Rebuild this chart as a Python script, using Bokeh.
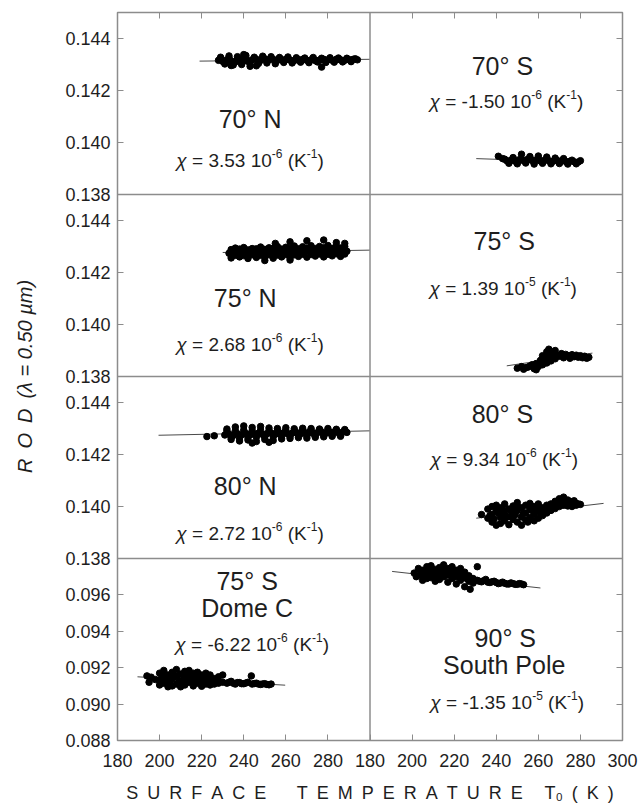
from bokeh.plotting import figure
from bokeh.models import (Range1d, LinearAxis, FixedTicker, Span, Grid)
from bokeh.embed import file_html
from bokeh.resources import INLINE
from bokeh.core.properties import value

# ---------------- DATA ----------------
X_TICKS = [180, 200, 220, 240, 260, 280, 300]
Y_TICKS_TOP = [0.138, 0.140, 0.142, 0.144]
Y_TICKS_BOT = [0.088, 0.090, 0.092, 0.094, 0.096]

# 70 N
T_70N = [228, 230, 232, 234, 236, 238, 240, 242, 244, 246,
         248, 250, 252, 254, 256, 258, 260, 262, 264, 266,
         268, 270, 272, 274, 276, 278, 280, 282, 284, 286,
         288, 290, 292, 294, 229, 233, 237, 241, 245, 249,
         253, 257, 261, 265, 269, 273, 277, 281, 285, 289,
         231, 235, 239, 243, 247, 251, 255, 259, 263, 267,
         271, 275, 279, 283, 287, 291, 277, 234, 240, 246,
         229, 231, 233, 235, 237, 239, 241, 243, 245, 247, 249,
         251, 253, 255, 257, 259, 261, 263, 265, 267, 269, 271,
         273, 275, 277, 279, 281, 283, 285, 287, 289, 291, 293]
R_70N = [0.14316, 0.14312, 0.14318, 0.14314, 0.14310, 0.14320, 0.14315, 0.14312, 0.14318, 0.14320,
         0.14316, 0.14322, 0.14318, 0.14320, 0.14316, 0.14318, 0.14320, 0.14317, 0.14315, 0.14318,
         0.14320, 0.14316, 0.14318, 0.14315, 0.14317, 0.14320, 0.14318, 0.14316, 0.14320, 0.14318,
         0.14316, 0.14319, 0.14320, 0.14318, 0.14328, 0.14333, 0.14330, 0.14335, 0.14328, 0.14332,
         0.14330, 0.14327, 0.14329, 0.14326, 0.14325, 0.14327, 0.14324, 0.14326, 0.14325, 0.14324,
         0.14302, 0.14298, 0.14300, 0.14293, 0.14304, 0.14306, 0.14303, 0.14308, 0.14306, 0.14309,
         0.14307, 0.14310, 0.14308, 0.14309, 0.14310, 0.14311, 0.14290, 0.14296, 0.14338, 0.14295,
         0.14322, 0.14308, 0.14324, 0.14306, 0.14322, 0.14305, 0.14326, 0.14308, 0.14322, 0.14310, 0.14324,
         0.14312, 0.14322, 0.14310, 0.14324, 0.14312, 0.14320, 0.14312, 0.14322, 0.14312, 0.14320, 0.14313,
         0.14322, 0.14312, 0.14320, 0.14314, 0.14322, 0.14313, 0.14320, 0.14314, 0.14321, 0.14313, 0.14322]
LT_70N = [219, 300]
LR_70N = [0.14313, 0.14320]

# 75 N
T_75N = [233, 235, 237, 239, 241, 243, 245, 247, 249, 251,
         253, 255, 257, 259, 261, 263, 265, 267, 269, 271,
         273, 275, 277, 279, 281, 283, 285, 287, 289,
         236, 240, 244, 248, 252, 256, 260, 264, 268, 272, 276, 280, 284, 288,
         255, 262, 270, 278, 284, 288,
         234, 238, 242, 246, 250, 254, 258, 262, 266, 270, 274, 278, 282, 286,
         250, 262,
         234, 236, 238, 240, 242, 244, 246, 248, 250, 252, 254, 256, 258, 260,
         262, 264, 266, 268, 270, 272, 274, 276, 278, 280, 282, 284, 286, 288]
R_75N = [0.14274, 0.14278, 0.14272, 0.14280, 0.14276, 0.14274, 0.14279, 0.14276, 0.14281, 0.14277,
         0.14275, 0.14280, 0.14278, 0.14282, 0.14276, 0.14279, 0.14283, 0.14278, 0.14280, 0.14284,
         0.14279, 0.14281, 0.14285, 0.14280, 0.14283, 0.14286, 0.14281, 0.14284, 0.14282,
         0.14294, 0.14296, 0.14292, 0.14298, 0.14295, 0.14300, 0.14297, 0.14302, 0.14299, 0.14303,
         0.14300, 0.14304, 0.14301, 0.14300,
         0.14312, 0.14318, 0.14322, 0.14325, 0.14315, 0.14312,
         0.14256, 0.14260, 0.14254, 0.14258, 0.14262, 0.14255, 0.14260, 0.14257, 0.14262, 0.14259,
         0.14263, 0.14260, 0.14264, 0.14262,
         0.14246, 0.14248,
         0.14288, 0.14266, 0.14290, 0.14265, 0.14287, 0.14268, 0.14291, 0.14266, 0.14289, 0.14268,
         0.14292, 0.14267, 0.14290, 0.14269, 0.14293, 0.14268, 0.14291, 0.14270, 0.14294, 0.14269,
         0.14292, 0.14271, 0.14295, 0.14270, 0.14293, 0.14272, 0.14294, 0.14271]
LT_75N = [230, 300]
LR_75N = [0.14277, 0.14286]

# 80 N
T_80N = [222.5, 226,
         231, 233, 235, 237, 239, 241, 243, 245, 247, 249,
         251, 253, 255, 257, 259, 261, 263, 265, 267, 269,
         271, 273, 275, 277, 279, 281, 283, 285, 287, 289,
         232, 236, 240, 244, 248, 252, 256, 260, 264, 268, 272, 276, 280, 284, 288,
         234, 238, 242, 246, 250, 254, 258, 262, 266, 270, 274, 278, 282, 286,
         244, 252,
         232, 234, 236, 238, 240, 242, 244, 246, 248, 250, 252, 254, 256, 258, 260,
         262, 264, 266, 268, 270, 272, 274, 276, 278, 280, 282, 284, 286, 288]
R_80N = [0.14269, 0.14272,
         0.14275, 0.14279, 0.14273, 0.14280, 0.14276, 0.14281, 0.14275, 0.14279, 0.14282, 0.14277,
         0.14280, 0.14283, 0.14278, 0.14281, 0.14284, 0.14279, 0.14282, 0.14285, 0.14280, 0.14283,
         0.14286, 0.14281, 0.14284, 0.14287, 0.14282, 0.14285, 0.14287, 0.14284, 0.14286, 0.14285,
         0.14298, 0.14306, 0.14310, 0.14304, 0.14308, 0.14302, 0.14300, 0.14303, 0.14299, 0.14301,
         0.14300, 0.14298, 0.14300, 0.14297, 0.14296,
         0.14258, 0.14252, 0.14256, 0.14250, 0.14258, 0.14254, 0.14260, 0.14262, 0.14265, 0.14263,
         0.14266, 0.14268, 0.14270, 0.14270,
         0.14244, 0.14247,
         0.14290, 0.14266, 0.14292, 0.14264, 0.14294, 0.14266, 0.14292, 0.14267, 0.14293, 0.14268,
         0.14291, 0.14269, 0.14292, 0.14270, 0.14293, 0.14271, 0.14292, 0.14272, 0.14294, 0.14272,
         0.14293, 0.14273, 0.14294, 0.14274, 0.14293, 0.14274, 0.14294, 0.14275, 0.14292]
LT_80N = [199.5, 300]
LR_80N = [0.14274, 0.14291]

# 70 S
T_70S = [241, 243,
         245, 247, 249, 251, 253, 255, 257, 259, 261, 263, 265, 267, 269, 271, 273, 275, 277, 279,
         248, 252, 256, 260, 264, 268, 272,
         246, 250, 254, 258, 262, 266, 270, 274, 278,
         244, 246, 248, 250, 252, 254, 256, 258, 260, 262, 264, 266, 268, 270, 272, 274, 276, 278, 280]
R_70S = [0.13947, 0.13938,
         0.13930, 0.13932, 0.13928, 0.13934, 0.13930, 0.13936, 0.13931, 0.13933, 0.13929, 0.13932,
         0.13930, 0.13928, 0.13931, 0.13929, 0.13927, 0.13928, 0.13926, 0.13925,
         0.13942, 0.13955, 0.13946, 0.13948, 0.13944, 0.13940, 0.13938,
         0.13920, 0.13918, 0.13921, 0.13917, 0.13920, 0.13918, 0.13919, 0.13917, 0.13918,
         0.13936, 0.13925, 0.13938, 0.13924, 0.13937, 0.13926, 0.13939, 0.13924, 0.13936, 0.13925,
         0.13935, 0.13923, 0.13934, 0.13924, 0.13933, 0.13922, 0.13932, 0.13922, 0.13930]
LT_70S = [230.5, 281]
LR_70S = [0.13938, 0.13924]

# 75 S
T_75S = [250, 252, 254, 256, 258, 253, 257,
         259, 260, 261, 262, 262, 263, 264, 264, 265, 265, 266, 266, 267, 268, 268,
         270, 271, 272, 273, 274, 275, 276, 277, 278, 279, 280, 281, 282, 283, 284,
         255, 259, 263, 266, 269, 272, 275, 278]
R_75S = [0.13832, 0.13838, 0.13834, 0.13840, 0.13830, 0.13828, 0.13845,
         0.13850, 0.13838, 0.13862, 0.13845, 0.13880, 0.13870, 0.13895, 0.13852, 0.13905, 0.13875,
         0.13860, 0.13890, 0.13882, 0.13900, 0.13868,
         0.13878, 0.13888, 0.13872, 0.13885, 0.13880, 0.13870, 0.13884, 0.13876, 0.13882, 0.13874,
         0.13880, 0.13872, 0.13878, 0.13870, 0.13874,
         0.13836, 0.13826, 0.13858, 0.13875, 0.13880, 0.13880, 0.13878, 0.13878]
LT_75S = [245, 285.7]
LR_75S = [0.13841, 0.13890]

# 80 S
T_80S = [233, 236, 236,
         238, 238, 238, 240, 240, 240, 242, 242, 242, 244, 244, 244,
         246, 246, 246, 248, 248, 248, 250, 250, 250, 252, 252, 252,
         254, 254, 254, 256, 256, 256, 258, 258, 258, 260, 260, 260,
         262, 262, 264, 264, 266, 266, 268, 268, 270, 270, 272, 272,
         274, 274, 276, 276, 278, 278, 280,
         237, 239, 241, 243, 245, 247, 249, 251, 253, 255, 257,
         259, 261, 263, 265, 267, 269, 271, 273, 275, 277, 279]
R_80S = [0.13969, 0.13990, 0.13955,
         0.14000, 0.13940, 0.13970, 0.13985, 0.13928, 0.14005, 0.13960, 0.13995, 0.13935,
         0.13975, 0.14010, 0.13945,
         0.13990, 0.13930, 0.13962, 0.14002, 0.13950, 0.13978, 0.13940, 0.13985, 0.14015,
         0.13960, 0.13995, 0.13928,
         0.13975, 0.14005, 0.13948, 0.13990, 0.13958, 0.14012, 0.13970, 0.14000, 0.13945,
         0.13985, 0.13955, 0.14010,
         0.13995, 0.13965, 0.14005, 0.13975, 0.14010, 0.13985, 0.14020, 0.13992, 0.14030, 0.14000,
         0.14036, 0.14005,
         0.14025, 0.14002, 0.14018, 0.14000, 0.14012, 0.14005, 0.14008,
         0.13965, 0.13952, 0.13975, 0.13990, 0.13960, 0.13985, 0.13968, 0.13995, 0.13975, 0.13940,
         0.13985, 0.13995, 0.13975, 0.13990, 0.13995, 0.14000, 0.14012, 0.14018, 0.14015, 0.14010,
         0.14022, 0.14010]
LT_80S = [230.5, 291]
LR_80S = [0.13955, 0.14012]

# 75 S Dome C
T_DC = [194, 195, 196, 198,
        200, 200, 200, 202, 202, 202, 204, 204, 204, 206, 206, 206,
        208, 208, 208, 210, 210, 210, 212, 212, 212, 214, 214, 214,
        216, 216, 216, 218, 218, 218, 220, 220, 220, 222, 222, 222,
        224, 224, 224, 226, 226, 228, 228, 230, 230,
        232, 234, 236, 238, 240, 242, 243.6, 244, 246, 248, 250, 252, 253,
        201, 203, 205, 207, 209, 211, 213, 215, 217, 219, 221, 223, 225, 227,
        233, 235, 237, 239, 241, 245, 247, 249, 251]
R_DC = [0.09155, 0.09120, 0.09148, 0.09135,
        0.09170, 0.09130, 0.09105, 0.09150, 0.09185, 0.09115, 0.09160, 0.09125, 0.09095,
        0.09175, 0.09140, 0.09100,
        0.09155, 0.09190, 0.09110, 0.09165, 0.09130, 0.09095, 0.09180, 0.09145, 0.09105,
        0.09160, 0.09120, 0.09185,
        0.09170, 0.09135, 0.09100, 0.09150, 0.09115, 0.09175, 0.09160, 0.09125, 0.09098,
        0.09145, 0.09110, 0.09170,
        0.09135, 0.09105, 0.09160, 0.09140, 0.09110, 0.09150, 0.09115, 0.09120, 0.09160,
        0.09115, 0.09125, 0.09110, 0.09118, 0.09112, 0.09120, 0.09155, 0.09110, 0.09115,
        0.09108, 0.09112, 0.09106, 0.09110,
        0.09145, 0.09160, 0.09130, 0.09150, 0.09120, 0.09165, 0.09135, 0.09150, 0.09128, 0.09155,
        0.09120, 0.09140, 0.09125, 0.09130,
        0.09120, 0.09115, 0.09118, 0.09112, 0.09116, 0.09113, 0.09110, 0.09111, 0.09108]
LT_DC = [189.5, 259.7]
LR_DC = [0.09150, 0.09104]

# 90 S South Pole
T_SP = [201, 202, 203,
        205, 205, 205, 207, 207, 207, 209, 209, 209, 211, 211, 211,
        213, 213, 213, 215, 215, 215, 217, 217, 217, 219, 219, 219,
        221, 221, 221, 223, 223, 223, 225, 225, 225,
        227, 227, 229, 229,
        231, 233, 235, 237, 239, 241, 243, 245, 247, 249, 251, 253,
        231, 227.6,
        204, 206, 208, 210, 212, 214, 216, 218, 220, 222, 224, 226, 228,
        232, 234, 236, 238, 240, 242, 244, 246, 248, 250, 252]
R_SP = [0.09720, 0.09700, 0.09745,
        0.09735, 0.09700, 0.09680, 0.09755, 0.09715, 0.09690, 0.09725, 0.09760, 0.09695,
        0.09740, 0.09705, 0.09675,
        0.09720, 0.09750, 0.09685, 0.09735, 0.09700, 0.09765, 0.09710, 0.09745, 0.09670,
        0.09725, 0.09690, 0.09755,
        0.09700, 0.09735, 0.09660, 0.09715, 0.09680, 0.09745, 0.09695, 0.09725, 0.09645,
        0.09705, 0.09675, 0.09690, 0.09665,
        0.09680, 0.09672, 0.09685, 0.09668, 0.09675, 0.09662, 0.09670, 0.09660, 0.09666,
        0.09658, 0.09662, 0.09656,
        0.09755, 0.09631,
        0.09715, 0.09725, 0.09730, 0.09720, 0.09712, 0.09735, 0.09710, 0.09722, 0.09705, 0.09712,
        0.09700, 0.09690, 0.09685,
        0.09675, 0.09678, 0.09670, 0.09672, 0.09668, 0.09665, 0.09664, 0.09660, 0.09662, 0.09658,
        0.09660]
LT_SP = [190.5, 261]
LR_SP = [0.09729, 0.09638]

CHI_MANT = ["3.53", "-1.50", "2.68", "1.39", "2.72", "9.34", "-6.22", "-1.35"]
CHI_EXP = ["6", "6", "6", "5", "6", "6", "6", "5"]

Y_TITLE = "R\u2002O\u2002D\u2002(λ\u00a0=\u00a00.50\u00a0µm)"
X_TITLE = ("\u2002".join("SURFACE") + "\u2003\u2002\u2009" + "\u2002".join("TEMPERATURE")
           + "\u2003\u2009T\u2080\u2002(\u2002K\u2002)")

# ---------------- STYLE / LAYOUT ----------------
FONT = "Liberation Sans"
TXT = "#1e1e1e"
FRAME = "#8c8c8c"
LINE = "#4a4a4a"
FW, FH = 505, 728
BL, BR, BT, BB = 117, 16, 12, 66

W = {'.': 0.278, ' ': 0.278, '\u00a0': 0.278, '=': 0.584, '-': 0.333, '(': 0.333,
     ')': 0.333, 'K': 0.667, 'χ': 0.55}


def tw(s, size):
    return sum(W.get(c, 0.556) for c in s) * size


# main ranges = left column / top row; extra ranges place the other panels
XR = Range1d(180, 420)
XR_RIGHT = Range1d(60, 300)
YR = Range1d(0.117, 0.145)
YR_EXTRA = {"r2": Range1d(0.124, 0.152), "r3": Range1d(0.131, 0.159), "r4": Range1d(0.088, 0.128)}

p = figure(frame_width=FW, frame_height=FH, x_range=XR, y_range=YR,
           x_axis_location=None, y_axis_location=None,
           output_backend="svg", toolbar_location=None,
           min_border_left=BL, min_border_right=BR, min_border_top=BT, min_border_bottom=BB)
p.extra_x_ranges = {"right": XR_RIGHT}
p.extra_y_ranges = YR_EXTRA
for r in p.center:
    if isinstance(r, Grid):
        r.visible = False
p.outline_line_color = FRAME
p.outline_line_width = 1.5
p.background_fill_color = "white"
p.border_fill_color = "white"


def to_main(v, rng, main):
    return round(main.start + (v - rng.start) / (rng.end - rng.start) * (main.end - main.start), 7)


# y ticks of all rows expressed on the main y range
ytick_pos, ytick_lab = [], []
for name, ticks in [(None, Y_TICKS_TOP), ("r2", Y_TICKS_TOP), ("r3", Y_TICKS_TOP), ("r4", Y_TICKS_BOT)]:
    rng = YR if name is None else YR_EXTRA[name]
    for t in ticks:
        ytick_pos.append(to_main(t, rng, YR))
        ytick_lab.append(f"{t:.3f}")

xtick_pos, xtick_lab = [], []
for rng in (XR, XR_RIGHT):
    for t in X_TICKS:
        pos = to_main(t, rng, XR)
        if pos not in xtick_pos:
            xtick_pos.append(pos)
            xtick_lab.append(str(t))
        else:
            xtick_lab[xtick_pos.index(pos)] = str(t)

common = dict(major_tick_in=6, major_tick_out=0, minor_tick_in=6, minor_tick_out=0,
              axis_line_color=None, major_tick_line_color=FRAME, minor_tick_line_color=FRAME,
              major_tick_line_width=1, minor_tick_line_width=1)

la = LinearAxis(ticker=FixedTicker(ticks=ytick_pos, minor_ticks=[]),
                major_label_overrides=dict(zip(ytick_pos, ytick_lab)),
                major_label_text_font=FONT, major_label_text_font_size="18px",
                major_label_text_color=TXT, major_label_standoff=7,
                axis_label=Y_TITLE, axis_label_text_font=FONT, axis_label_text_font_size="20px",
                axis_label_text_font_style="italic", axis_label_text_color=TXT,
                axis_label_standoff=26, **common)
p.add_layout(la, "left")
ra = LinearAxis(ticker=FixedTicker(ticks=[], minor_ticks=ytick_pos), **common)
p.add_layout(ra, "right")
top_minor = [x for x in xtick_pos if x not in (180, 300, 420)]
ta = LinearAxis(ticker=FixedTicker(ticks=[], minor_ticks=top_minor), **common)
p.add_layout(ta, "above")
ba = LinearAxis(ticker=FixedTicker(ticks=xtick_pos, minor_ticks=[]),
                major_label_overrides=dict(zip(xtick_pos, xtick_lab)),
                major_label_text_font=FONT, major_label_text_font_size="18px",
                major_label_text_color=TXT, major_label_standoff=13,
                axis_label=X_TITLE, axis_label_text_font=FONT, axis_label_text_font_size="18px",
                axis_label_text_font_style="normal", axis_label_text_color=TXT,
                axis_label_standoff=13, **common)
p.add_layout(ba, "below")

# panel dividers
p.add_layout(Span(location=300, dimension="height", line_color=FRAME, line_width=1.5))
p.add_layout(Span(location=0.138, dimension="width", line_color=FRAME, line_width=1.5))
p.add_layout(Span(location=0.138, dimension="width", line_color=FRAME, line_width=1.5, y_range_name="r2"))
p.add_layout(Span(location=0.138, dimension="width", line_color=FRAME, line_width=1.5, y_range_name="r3"))


def chi_text(xr, yr, cx, cy, mant, exp):
    runs = [("χ", 19, "italic", 0),
            ("\u00a0=\u00a0" + mant + "\u00a010", 19, "normal", 0),
            ("-" + exp, 12, "normal", -7),
            ("\u00a0(K", 19, "normal", 0),
            ("-1", 12, "normal", -7),
            (")", 19, "normal", 0)]
    total = sum(tw(t, s) for t, s, _, _ in runs)
    off = -total / 2
    for t, s, st, dy in runs:
        p.text(x=[cx], y=[cy], text=[t], x_offset=off, y_offset=dy,
               text_font=value(FONT), text_font_size=f"{s}px", text_font_style=st,
               text_align="left", text_baseline="middle", text_color=TXT,
               x_range_name=xr, y_range_name=yr)
        off += tw(t, s)


def panel(xr, yr, T, R, LT, LR, titles, chi_pos, mant, exp):
    assert len(T) == len(R)
    p.line(LT, LR, line_color=LINE, line_width=1, x_range_name=xr, y_range_name=yr)
    p.scatter(T, R, size=6.5, color="black", x_range_name=xr, y_range_name=yr)
    for txt, tx, ty in titles:
        p.text(x=[tx], y=[ty], text=[txt], text_font=value(FONT), text_font_size="25px",
               text_align="center", text_baseline="middle", text_color=TXT,
               x_range_name=xr, y_range_name=yr)
    chi_text(xr, yr, chi_pos[0], chi_pos[1], mant, exp)


panel("default", "default", T_70N, R_70N, LT_70N, LR_70N, [("70° N", 243, 0.14090)], (243, 0.13931),
      CHI_MANT[0], CHI_EXP[0])
panel("right", "default", T_70S, R_70S, LT_70S, LR_70S, [("70° S", 242.9, 0.14294)], (244.8, 0.14159),
      CHI_MANT[1], CHI_EXP[1])
panel("default", "r2", T_75N, R_75N, LT_75N, LR_75N, [("75° N", 240.7, 0.14101)], (243, 0.13922),
      CHI_MANT[2], CHI_EXP[2])
panel("right", "r2", T_75S, R_75S, LT_75S, LR_75S, [("75° S", 243.8, 0.14322)], (243.3, 0.14140),
      CHI_MANT[3], CHI_EXP[3])
panel("default", "r3", T_80N, R_80N, LT_80N, LR_80N, [("80° N", 240.7, 0.14077)], (243, 0.13897),
      CHI_MANT[4], CHI_EXP[4])
panel("right", "r3", T_80S, R_80S, LT_80S, LR_80S, [("80° S", 242.9, 0.14355)], (243.8, 0.14180),
      CHI_MANT[5], CHI_EXP[5])
panel("default", "r4", T_DC, R_DC, LT_DC, LR_DC,
      [("75° S", 241.6, 0.09678), ("Dome C", 241.6, 0.09528)], (244, 0.09328),
      CHI_MANT[6], CHI_EXP[6])
panel("right", "r4", T_SP, R_SP, LT_SP, LR_SP,
      [("90° S", 244.3, 0.09364), ("South Pole", 243.8, 0.09215)], (245.2, 0.09009),
      CHI_MANT[7], CHI_EXP[7])

open("out.html", "w").write(file_html(p, INLINE))
